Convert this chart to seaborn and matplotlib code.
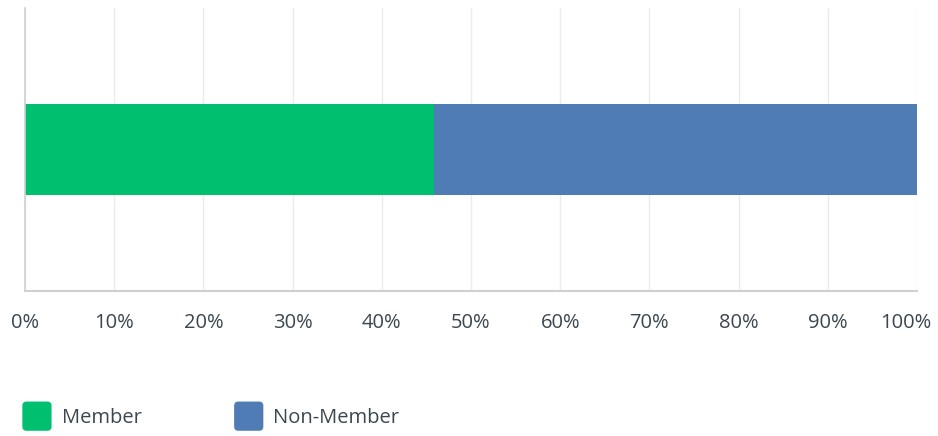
import matplotlib
matplotlib.use("Agg")
import matplotlib.pyplot as plt
import matplotlib.transforms as mtransforms
import seaborn as sns
import pandas as pd
from matplotlib.patches import Patch, FancyBboxPatch
from matplotlib.legend_handler import HandlerPatch

categories = ["Member", "Non-Member"]
shares = [45.8, 54.2]
colors = ["#00bf6f", "#507cb6"]
ticks = list(range(0, 101, 10))
tick_labels = [f"{t}%" for t in ticks]

sns.set_theme(style="white")
plt.rcParams["font.family"] = ["Open Sans", "DejaVu Sans"]


class RoundBox(HandlerPatch):
    # square legend key with rounded corners (sizes in points)
    def create_artists(self, legend, orig_handle, xdescent, ydescent, width, height, fontsize, trans):
        size = width
        pad = 2
        x0 = -xdescent
        y0 = -ydescent + (height - size) / 2
        p = FancyBboxPatch((x0 + pad, y0 + pad), size - 2 * pad, size - 2 * pad,
                           boxstyle=f"round,pad={pad},rounding_size=3",
                           facecolor=orig_handle.get_facecolor(), edgecolor="none", transform=trans)
        return [p]


df = pd.DataFrame({"group": [""], "member": [shares[0]], "total": [shares[0] + shares[1]]})

fig = plt.figure(figsize=(9.38, 4.36), dpi=100)
ax = fig.add_axes([25 / 938, 1 - 291 / 436, 892 / 938, 283 / 436])

# stacked bar: draw total first, then the first segment over it
sns.barplot(data=df, x="total", y="group", color=colors[1], width=0.32, ax=ax,
            orient="h", saturation=1, linewidth=0)
sns.barplot(data=df, x="member", y="group", color=colors[0], width=0.32, ax=ax,
            orient="h", saturation=1, linewidth=0)

ax.set_xlim(0, 100)
ax.set_ylim(0.5, -0.5)
ax.set_xticks(ticks)
ax.set_xticklabels(tick_labels, fontsize=14.5, color="#3b4650")
ax.set_yticks([])
ax.set_xlabel("")
ax.set_ylabel("")
ax.tick_params(axis="x", length=0, pad=16)
ax.grid(axis="x", color="#ebebeb", linewidth=1)
ax.set_axisbelow(True)
for s in ["top", "right"]:
    ax.spines[s].set_visible(False)
ax.spines["left"].set_color("#d0d0d0")
ax.spines["bottom"].set_color("#d0d0d0")
ax.spines["left"].set_linewidth(1.2)
ax.spines["bottom"].set_linewidth(1.5)

# last label pulled in so it fits inside the figure
last = ax.get_xticklabels()[-1]
last.set_transform(last.get_transform() + mtransforms.ScaledTranslation(-11 / 100, 0, fig.dpi_scale_trans))

handles = [Patch(facecolor=c, edgecolor=c, label=l) for c, l in zip(colors, categories)]
leg = fig.legend(handles=handles, loc="lower left", bbox_to_anchor=(0.0045, -0.0235), ncol=2,
                 frameon=False, fontsize=14.5, handlelength=1.45, handleheight=1.45,
                 columnspacing=4.6, handletextpad=0.5, labelcolor="#3b4650",
                 handler_map={Patch: RoundBox()})

fig.savefig("out.png", dpi=100)
